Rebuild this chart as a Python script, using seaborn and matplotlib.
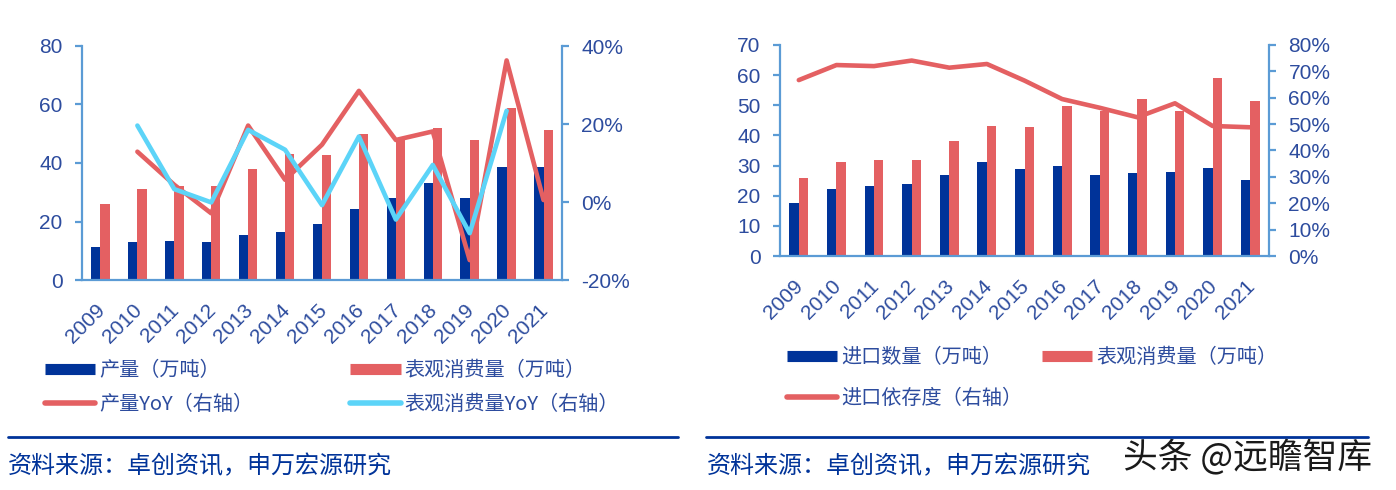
import numpy as np
import pandas as pd
import matplotlib
matplotlib.use("Agg")
import matplotlib.pyplot as plt
import matplotlib.transforms as mtransforms
import seaborn as sns
from matplotlib.lines import Line2D
from matplotlib.ticker import FixedLocator, FuncFormatter

# ---------------- data ----------------
years = [str(y) for y in range(2009, 2022)]
production = [11.2, 12.9, 13.4, 12.9, 15.5, 16.4, 19.1, 24.3, 28.2, 33.0, 28.2, 38.8, 38.8]
apparent_consumption = [25.9, 31.1, 32.0, 32.0, 38.0, 43.2, 42.7, 49.8, 48.1, 52.0, 48.0, 58.9, 51.4]
production_yoy = [np.nan, 12.9, 4.4, -2.9, 19.6, 5.7, 14.7, 28.5, 15.9, 18.1, -14.9, 36.3, 0.5]
consumption_yoy = [np.nan, 19.6, 3.3, -0.1, 18.5, 13.4, -0.8, 16.8, -4.5, 9.5, -8.0, 23.4, np.nan]
imports = [17.6, 22.3, 23.2, 24.0, 27.0, 31.2, 28.7, 29.9, 27.0, 27.4, 27.8, 29.1, 25.3]
import_dependency = [66.7, 72.4, 72.0, 74.1, 71.4, 72.8, 66.5, 59.5, 56.2, 52.6, 57.9, 49.3, 48.8]

lbl_prod = "产量（万吨）"
lbl_cons = "表观消费量（万吨）"
lbl_prod_yoy = "产量YoY（右轴）"
lbl_cons_yoy = "表观消费量YoY（右轴）"
lbl_imp = "进口数量（万吨）"
lbl_dep = "进口依存度（右轴）"
source_text = "资料来源：卓创资讯，申万宏源研究"
watermark = "头条 @远瞻智库"

# ---------------- style ----------------
sns.set_style("white")
CJK = ["Noto Sans CJK SC", "DejaVu Sans"]
plt.rcParams["font.family"] = ["Liberation Sans", "Noto Sans CJK SC", "DejaVu Sans"]
NAVY = "#003399"
RED = "#E46062"
CYAN = "#5CD4F8"
TXT = "#2D4C9E"
SPINE = "#5B9BD5"
TICKFS = 15

W, H = 1396, 490
fig = plt.figure(figsize=(W / 100, H / 100), dpi=100)


def fx(px):
    return px / W


def fy(py):
    return 1 - py / H


def axes_px(x0, x1, ytop, ybot):
    return fig.add_axes([fx(x0), fy(ybot), fx(x1) - fx(x0), fy(ytop) - fy(ybot)])


def style_axes(ax, ax2):
    for a in (ax, ax2):
        a.spines["top"].set_visible(False)
        for s in ("left", "right", "bottom"):
            a.spines[s].set_color(SPINE)
            a.spines[s].set_linewidth(1.6)
        a.tick_params(colors=SPINE, labelcolor=TXT, labelsize=TICKFS, width=1.6, length=5)
        a.tick_params(axis="y", pad=9)
    ax.spines["right"].set_visible(False)
    ax2.spines["left"].set_visible(False)
    ax2.spines["bottom"].set_visible(False)
    n = len(years)
    ax.set_xlim(-0.5, n - 0.5)
    ax.xaxis.set_major_locator(FixedLocator(np.arange(n)))
    ax.set_xticklabels(years, rotation=45, ha="right", va="top", rotation_mode="anchor")
    ax.tick_params(axis="x", which="major", length=0, pad=15)
    offset = mtransforms.ScaledTranslation(-0.05, 0, fig.dpi_scale_trans)
    for lab in ax.get_xticklabels():
        lab.set_transform(lab.get_transform() + offset)
    ax.xaxis.set_minor_locator(FixedLocator(np.arange(-0.5, n, 1.0)))
    ax.tick_params(axis="x", which="minor", length=5, width=1.6, color=SPINE)
    ax.set_xlabel("")
    ax.set_ylabel("")
    ax2.set_ylabel("")
    ax.grid(False)
    ax2.grid(False)


pct = FuncFormatter(lambda v, p: f"{v:.0f}%")

# ---------------- left chart ----------------
df1 = pd.DataFrame({
    "year": years * 2,
    "value": production + apparent_consumption,
    "series": [lbl_prod] * len(years) + [lbl_cons] * len(years),
})
ax = axes_px(82, 562, 46, 280)
sns.barplot(data=df1, x="year", y="value", hue="series", palette=[NAVY, RED],
            width=0.5, saturation=1, legend=False, ax=ax, linewidth=0)
ax.set_ylim(0, 80)
ax.set_yticks([0, 20, 40, 60, 80])
ax2 = ax.twinx()
xpos = np.arange(len(years))
sns.lineplot(x=xpos, y=production_yoy, color=RED, linewidth=3.3, ax=ax2)
sns.lineplot(x=xpos, y=consumption_yoy, color=CYAN, linewidth=3.3, ax=ax2)
ax2.set_ylim(-20, 40)
ax2.set_yticks([-20, 0, 20, 40])
ax2.yaxis.set_major_formatter(pct)
style_axes(ax, ax2)

# ---------------- right chart ----------------
df2 = pd.DataFrame({
    "year": years * 2,
    "value": imports + apparent_consumption,
    "series": [lbl_imp] * len(years) + [lbl_cons] * len(years),
})
bx = axes_px(780, 1269, 45, 256)
sns.barplot(data=df2, x="year", y="value", hue="series", palette=[NAVY, RED],
            width=0.5, saturation=1, legend=False, ax=bx, linewidth=0)
bx.set_ylim(0, 70)
bx.set_yticks(np.arange(0, 71, 10))
bx2 = bx.twinx()
sns.lineplot(x=xpos, y=import_dependency, color=RED, linewidth=3.3, ax=bx2)
bx2.set_ylim(0, 80)
bx2.set_yticks(np.arange(0, 81, 10))
bx2.yaxis.set_major_formatter(pct)
style_axes(bx, bx2)

# ---------------- legends ----------------
def bar_h(c):
    return Line2D([], [], color=c, linewidth=8, solid_capstyle="butt")


def line_h(c):
    return Line2D([], [], color=c, linewidth=4, solid_capstyle="round")


leg_kw = dict(frameon=False, loc="upper left", borderpad=0, borderaxespad=0,
              handlelength=2.5, handletextpad=0.2,
              prop={"family": CJK, "size": 14.5})
leg1 = fig.legend([bar_h(NAVY), line_h(RED), bar_h(RED), line_h(CYAN)],
                  [lbl_prod, lbl_prod_yoy, lbl_cons, lbl_cons_yoy],
                  ncol=2, bbox_to_anchor=(fx(45), fy(360)), columnspacing=4.8,
                  labelspacing=0.65, **leg_kw)
for t in leg1.get_texts():
    t.set_color(TXT)
leg2 = fig.legend([bar_h(NAVY), line_h(RED), bar_h(RED)],
                  [lbl_imp, lbl_dep, lbl_cons],
                  ncol=2, bbox_to_anchor=(fx(787), fy(347)), columnspacing=0.95,
                  labelspacing=1.0, **leg_kw)
for t in leg2.get_texts():
    t.set_color(TXT)

# ---------------- separators & source ----------------
fig.add_artist(Line2D([fx(8), fx(678)], [fy(437), fy(437)], color=NAVY, linewidth=2))
fig.add_artist(Line2D([fx(706), fx(1368)], [fy(437), fy(437)], color=NAVY, linewidth=2))
fig.text(fx(8), fy(466), source_text, family=CJK, fontsize=17.3, color=NAVY, va="center", ha="left")
fig.text(fx(707), fy(466), source_text, family=CJK, fontsize=17.3, color=NAVY, va="center", ha="left")
fig.text(fx(1123), fy(457), watermark, family=CJK, fontsize=25, color="#1a1a1a", va="center", ha="left")

fig.savefig("out.png", dpi=100)
